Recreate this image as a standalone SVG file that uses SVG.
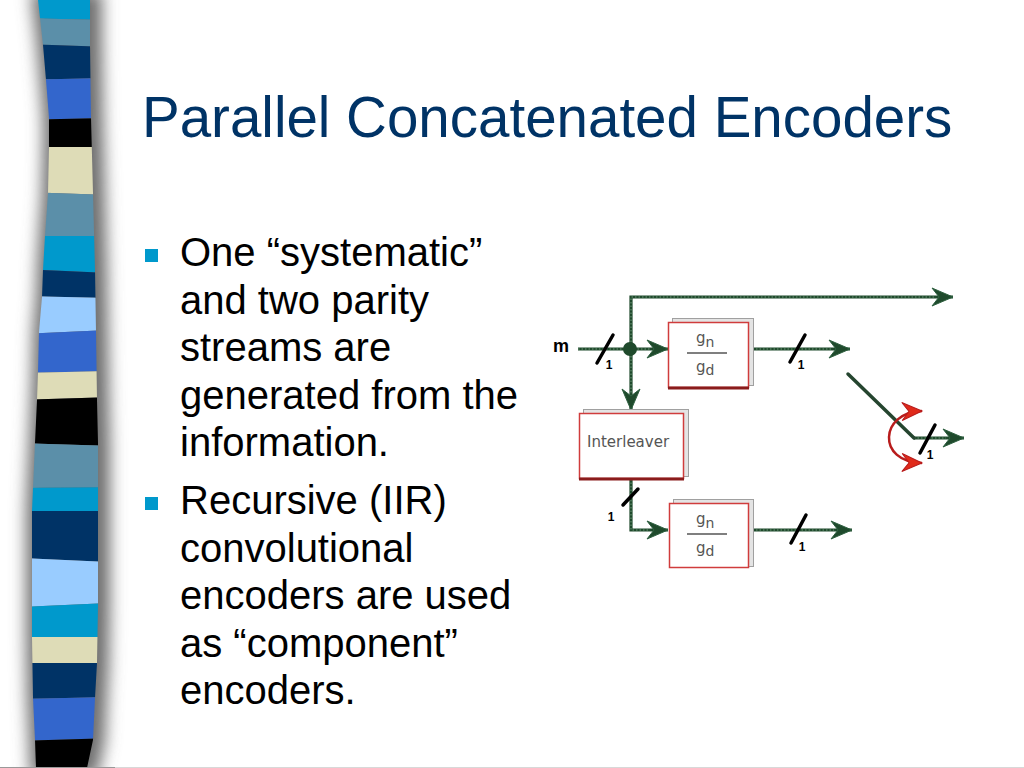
<svg xmlns="http://www.w3.org/2000/svg" width="1024" height="768" viewBox="0 0 1024 768">
<style>
.title{font-family:"Liberation Sans",Arial,sans-serif;font-size:56.5px;fill:#003366}
.body{font-family:"Liberation Sans",Arial,sans-serif;font-size:40px;fill:#000}
.wire{fill:none;stroke:#1f4a2c;stroke-width:3.2}
.dots{fill:none;stroke:#6e9878;stroke-width:1;stroke-dasharray:1.5 2}
.slash{stroke:#000;stroke-width:3.5;stroke-linecap:round}
.one{font-family:"Liberation Sans",Arial,sans-serif;font-size:12px;font-weight:bold;fill:#000;text-anchor:middle}
.back{fill:#e4e4e4;stroke:#a0a0a0;stroke-width:1}
.front{fill:#fff;stroke:#d03c3c;stroke-width:1.5}
.edge{stroke:#8a1c1c;stroke-width:3}
.lbl{font-family:"DejaVu Sans",sans-serif;fill:#555}
.frac{stroke:#555;stroke-width:1.5}
</style>
<defs>
<marker id="ga" viewBox="-24 -11 26 22" refX="0" refY="0" markerWidth="26" markerHeight="22" markerUnits="userSpaceOnUse" orient="auto">
<path d="M0,0 L-21,-9 L-14,0 L-21,9 Z" fill="#1f4a2c" stroke="#2e6040" stroke-width="1"/>
</marker>
<marker id="ra" viewBox="-24 -11 26 22" refX="0" refY="0" markerWidth="26" markerHeight="22" markerUnits="userSpaceOnUse" orient="auto-start-reverse">
<path d="M0,0 L-20,-9 L-13,0 L-20,9 Z" fill="#e02a1a" stroke="#b81c1c" stroke-width="1"/>
</marker>
<clipPath id="barClip">
<polygon points="38,0 90,0 90,45 91,118 93,193 95,270 96,332 97,400 98,443 98,511 98,605 97,663 95,698 93,740 87,768 36,768 35,740 33,698 32,637 32,560 32,511 35,443 37,400 38,372 39,332 42,297 43,270 45,236 48,193 49,147 49,118 46,80 43,45 40,18"/>
</clipPath>
<filter id="blur" x="-50%" y="-10%" width="200%" height="120%">
<feGaussianBlur stdDeviation="8"/>
</filter>
</defs>
<rect width="1024" height="768" fill="#fff"/>
<g id="sidebar">
<polygon points="38,0 90,0 90,45 91,118 93,193 95,270 96,332 97,400 98,443 98,511 98,605 97,663 95,698 93,740 87,768 36,768 35,740 33,698 32,637 32,560 32,511 35,443 37,400 38,372 39,332 42,297 43,270 45,236 48,193 49,147 49,118 46,80 43,45 40,18" fill="#6e6e6e" stroke="#6e6e6e" stroke-width="18" filter="url(#blur)" transform="translate(3,0)"/>
<g clip-path="url(#barClip)">
<polygon points="20,-5 110,-5 110,20 20,18" fill="#0099cc"/>
<polygon points="20,18 110,20 110,47 20,44" fill="#5b8fa9"/>
<polygon points="20,44 110,47 110,78 20,80" fill="#003366"/>
<polygon points="20,80 110,78 110,118 20,120" fill="#3366cc"/>
<polygon points="20,120 110,118 110,147 20,147" fill="#000"/>
<polygon points="20,147 110,147 110,195 20,192" fill="#dedcb7"/>
<polygon points="20,192 110,195 110,236 20,236" fill="#5b8fa9"/>
<polygon points="20,236 110,236 110,273 20,269" fill="#0099cc"/>
<polygon points="20,269 110,273 110,298 20,296" fill="#003366"/>
<polygon points="20,296 110,298 110,330 20,334" fill="#99ccff"/>
<polygon points="20,334 110,330 110,371 20,373" fill="#3366cc"/>
<polygon points="20,373 110,371 110,397 20,400" fill="#dedcb7"/>
<polygon points="20,400 110,397 110,446 20,443" fill="#000"/>
<polygon points="20,443 110,446 110,487 20,488" fill="#5b8fa9"/>
<polygon points="20,488 110,487 110,511 20,511" fill="#0099cc"/>
<polygon points="20,511 110,511 110,562 20,558" fill="#003366"/>
<polygon points="20,558 110,562 110,603 20,607" fill="#99ccff"/>
<polygon points="20,607 110,603 110,637 20,637" fill="#0099cc"/>
<polygon points="20,637 110,637 110,663 20,663" fill="#dedcb7"/>
<polygon points="20,663 110,663 110,697 20,699" fill="#003366"/>
<polygon points="20,699 110,697 110,738 20,741" fill="#3366cc"/>
<polygon points="20,741 110,738 110,775 20,775" fill="#000"/>
</g>
</g>
<line x1="0" y1="767.5" x2="115" y2="767.5" stroke="#999" stroke-width="1"/>
<line x1="115" y1="767.5" x2="1024" y2="767.5" stroke="#d8d8d8" stroke-width="1"/>
<g id="title"><text class="title" x="142" y="137">Parallel Concatenated Encoders</text></g>
<g id="bullets">
<rect x="145" y="249" width="13" height="13" fill="#0099cc"/>
<text class="body" x="180" y="266">One “systematic”</text>
<text class="body" x="180" y="313.5">and two parity</text>
<text class="body" x="180" y="361">streams are</text>
<text class="body" x="180" y="408.5">generated from the</text>
<text class="body" x="180" y="456">information.</text>
<rect x="145" y="497" width="13" height="13" fill="#0099cc"/>
<text class="body" x="180" y="514">Recursive (IIR)</text>
<text class="body" x="180" y="561.5">convolutional</text>
<text class="body" x="180" y="609">encoders are used</text>
<text class="body" x="180" y="656.5">as “component”</text>
<text class="body" x="180" y="704">encoders.</text>
</g>
<g id="connectors">
<path class="wire" d="M578,349 L668,349" marker-end="url(#ga)"/>
<path class="wire" d="M631,349 L631,297 L953,297" marker-end="url(#ga)"/>
<path class="wire" d="M631,349 L631,410" marker-end="url(#ga)"/>
<path class="wire" d="M749,349 L850,349" marker-end="url(#ga)"/>
<path class="wire" d="M631,479 L631,530 L668,530" marker-end="url(#ga)"/>
<path class="wire" d="M749,530 L852,530" marker-end="url(#ga)"/>
<path class="wire" d="M914,438 L964,438" marker-end="url(#ga)"/>
<path class="dots" d="M578,349 L650,349 M631,349 L631,297 L935,297 M631,349 L631,393 M749,349 L832,349 M631,479 L631,530 L650,530 M749,530 L834,530 M914,438 L946,438"/>
<path d="M848,374 L914,438" fill="none" stroke="#25452f" stroke-width="3.5" stroke-linecap="round"/>
<g id="slashes">
<line class="slash" x1="597" y1="363" x2="613" y2="335"/>
<line class="slash" x1="790" y1="362" x2="805" y2="335"/>
<line class="slash" x1="623" y1="505" x2="638" y2="489"/>
<line class="slash" x1="791" y1="543" x2="806" y2="515"/>
<line class="slash" x1="920" y1="453" x2="935" y2="425"/>
<text class="one" x="609" y="369">1</text>
<text class="one" x="801" y="369">1</text>
<text class="one" x="611" y="521">1</text>
<text class="one" x="802" y="551">1</text>
<text class="one" x="930" y="459">1</text>
</g>
</g>
<g id="input-label"><text x="561" y="352" font-family="Liberation Sans,Arial,sans-serif" font-size="18" font-weight="bold" text-anchor="middle" fill="#000">m</text></g>
<g id="split-node"><circle cx="630" cy="349" r="7" fill="#1f4a2c"/></g>
<g id="encoder1">
<rect class="back" x="672.5" y="318.5" width="81" height="67"/>
<rect class="front" x="668.5" y="322.5" width="80" height="65"/>
<line class="edge" x1="668" y1="388" x2="749" y2="388"/>
<text class="lbl" x="696" y="343" font-size="15">g<tspan font-size="14" dy="4">n</tspan></text>
<line class="frac" x1="687" y1="353" x2="727" y2="353"/>
<text class="lbl" x="696" y="372" font-size="15">g<tspan font-size="14" dy="3">d</tspan></text>
</g>
<g id="interleaver">
<rect class="back" x="583.5" y="409.5" width="105" height="67"/>
<rect class="front" x="579.5" y="413.5" width="104" height="65"/>
<line class="edge" x1="579" y1="479" x2="684" y2="479"/>
<text class="lbl" x="587" y="447" font-size="15">Interleaver</text>
</g>
<g id="encoder2">
<rect class="back" x="673.5" y="499.5" width="80" height="67"/>
<rect class="front" x="669.5" y="503.5" width="79" height="64"/>
<text class="lbl" x="696" y="524" font-size="15">g<tspan font-size="14" dy="4">n</tspan></text>
<line class="frac" x1="687" y1="534" x2="727" y2="534"/>
<text class="lbl" x="696" y="553" font-size="15">g<tspan font-size="14" dy="3">d</tspan></text>
</g>
<g id="switch">
<path d="M922,411 C880,412 876,462 922,463" fill="none" stroke="#b81c1c" stroke-width="2.5" marker-start="url(#ra)" marker-end="url(#ra)"/>
</g>
</svg>
